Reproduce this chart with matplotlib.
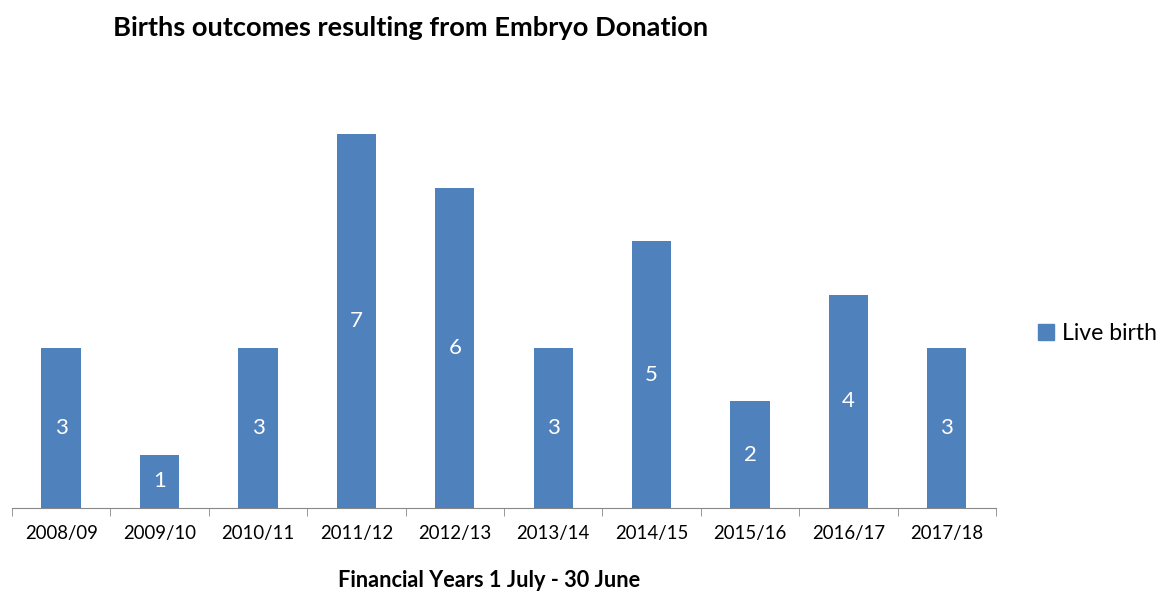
import matplotlib.pyplot as plt
from matplotlib.patches import Patch

plt.rcParams['font.family'] = ['Lato', 'DejaVu Sans']

years = ['2008/09', '2009/10', '2010/11', '2011/12', '2012/13',
         '2013/14', '2014/15', '2015/16', '2016/17', '2017/18']
live_birth = [3, 1, 3, 7, 6, 3, 5, 2, 4, 3]

blue = '#4f81bd'

fig = plt.figure(figsize=(11.61, 5.91), dpi=100)
ax = fig.add_axes([0.0103, 0.1404, 0.8476, 0.7225])

x = range(len(years))
bars = ax.bar(x, live_birth, width=0.4, color=blue)
ax.bar_label(bars, labels=[str(v) for v in live_birth], label_type='center',
             color='white', fontsize=16)

ax.set_xlim(-0.5, len(years) - 0.5)
ax.set_ylim(0, 8)
ax.set_yticks([])
for s in ['top', 'right', 'left']:
    ax.spines[s].set_visible(False)
ax.spines['bottom'].set_color('#888888')

ax.set_xticks(list(x))
ax.set_xticklabels(years, fontsize=13.4)
ax.tick_params(axis='x', which='major', length=0, pad=12)
ax.set_xticks([i - 0.5 for i in range(len(years) + 1)], minor=True)
ax.tick_params(axis='x', which='minor', length=6, color='#888888')

fig.text(0.0973, 0.953, 'Births outcomes resulting from Embryo Donation',
         fontsize=19.6, fontweight='bold', va='center', ha='left')
fig.text(0.421, 0.017, 'Financial Years 1 July - 30 June',
         fontsize=15.7, fontweight='bold', va='center', ha='center')

fig.legend(handles=[Patch(color=blue, label='Live birth')],
           loc='center left', bbox_to_anchor=(0.894, 0.435), frameon=False,
           fontsize=16.6, handlelength=0.7, handleheight=0.7, handletextpad=0.35,
           borderpad=0, borderaxespad=0)

fig.savefig('out.png', dpi=100)
